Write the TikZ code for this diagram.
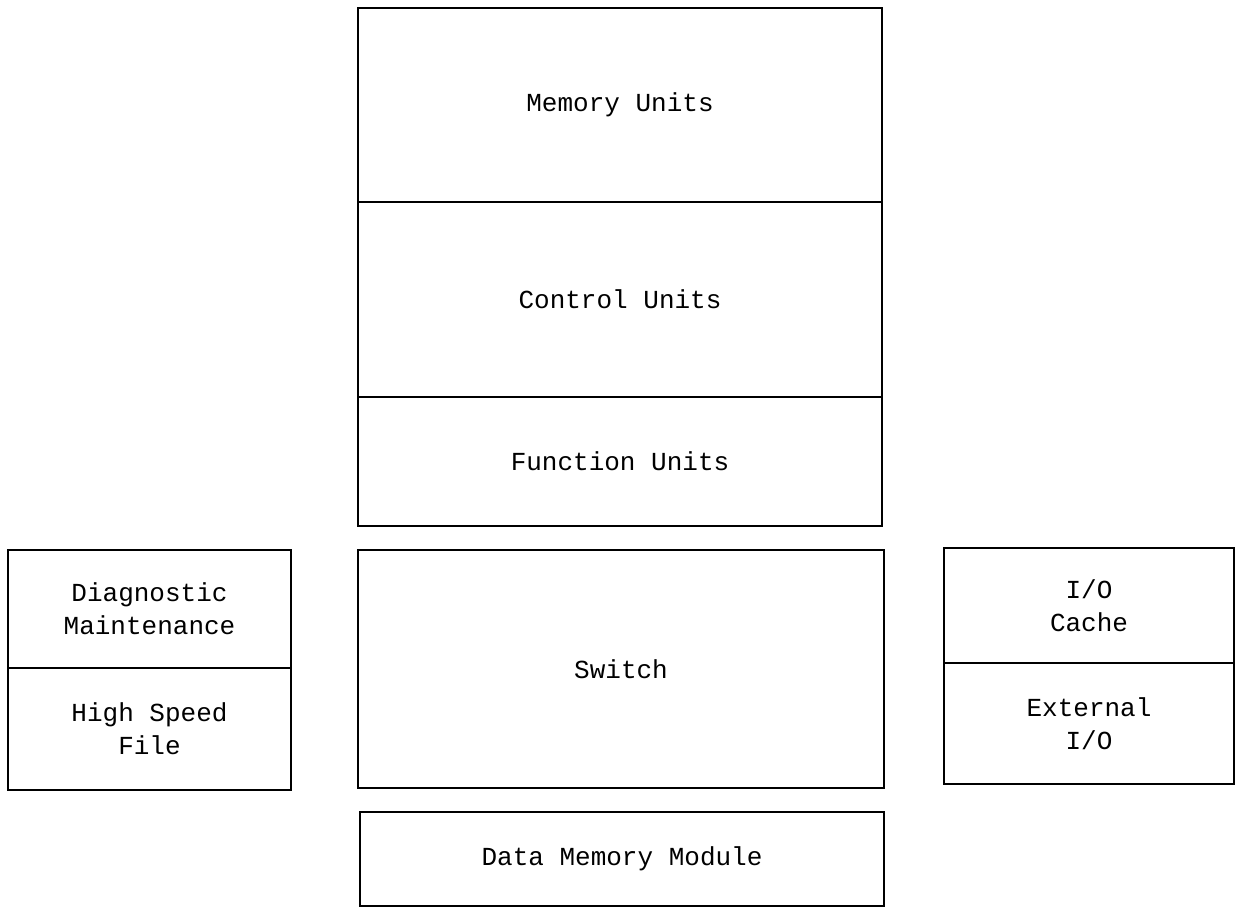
\documentclass[tikz,border=0pt]{standalone}
\usepackage{fontspec}
\setmonofont{Liberation Mono}
\usepackage{tikz}
\usetikzlibrary{positioning, calc}

\begin{document}
\begin{tikzpicture}[every node/.style={font=\ttfamily\fontsize{18.5}{23.5}\selectfont, align=center},
    unit/.style={rectangle, draw, line width=1.9pt, inner sep=0pt}]
        \useasboundingbox (0,0) rectangle (30.9,-22.7);

        % Central stack
        \node[unit, minimum width=13.1cm, minimum height=4.85cm] (memory) at (15.5,-2.625) {Memory Units};
        \node[unit, minimum width=13.1cm, minimum height=4.875cm] (control) at (15.5,-7.4875) {Control Units};
        \node[unit, minimum width=13.1cm, minimum height=3.225cm] (function) at (15.5,-11.5375) {Function Units};

        % Switch and data memory
        \node[unit, minimum width=13.15cm, minimum height=5.95cm] (switch) at (15.525,-16.725) {Switch};
        \node[unit, minimum width=13.1cm, minimum height=2.35cm] (datamem) at (15.55,-21.475) {Data Memory Module};

        % Left side
        \node[unit, minimum width=7.075cm, minimum height=2.95cm] (diag) at (3.7375,-15.225) {Diagnostic\\Maintenance};
        \node[unit, minimum width=7.075cm, minimum height=3.05cm] (hsfile) at (3.7375,-18.225) {High Speed\\File};

        % Right side
        \node[unit, minimum width=7.25cm, minimum height=2.875cm] (iocache) at (27.225,-15.1375) {I/O\\Cache};
        \node[unit, minimum width=7.25cm, minimum height=3.025cm] (extio) at (27.225,-18.0875) {External\\I/O};
    \end{tikzpicture}
\end{document}
